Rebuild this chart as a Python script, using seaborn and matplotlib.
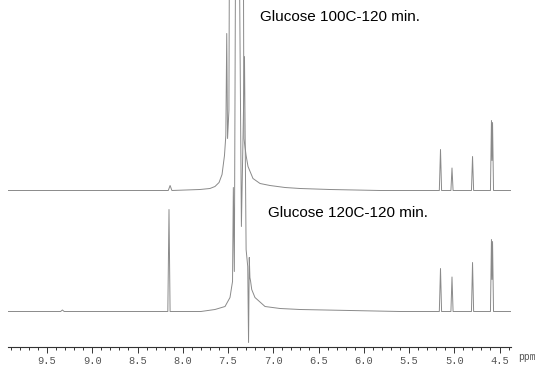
import numpy as np
import matplotlib
matplotlib.use("Agg")
import matplotlib.pyplot as plt
import seaborn as sns

# ---- data (ppm, intensity relative to each baseline) ----
top_ppm = [9.93, 8.16, 8.14, 8.12, 7.81, 7.70, 7.644, 7.599, 7.566, 7.539, 7.524,
           7.514, 7.505, 7.490, 7.479, 7.400, 7.335, 7.324, 7.300, 7.279, 7.224,
           7.146, 7.036, 6.870, 6.704, 6.373, 5.820,
           5.165, 5.152, 5.140, 5.037, 5.025, 5.013, 4.810, 4.798, 4.786,
           4.600, 4.589, 4.583, 4.577, 4.566, 4.30]
top_int = [0, 0, 5, 0, 1, 2, 4, 8, 16, 35, 55,
           157, 52, 80, 400, 400, 400, 52, 35, 24, 12,
           7, 5, 3, 2, 1, 0,
           0, 41, 0, 0, 22.5, 0, 0, 34, 0,
           0, 70, 30, 68, 0, 0]

bot_ppm = [9.93, 9.35, 9.33, 9.31, 8.165, 8.152, 8.140, 7.80, 7.644, 7.533,
           7.478, 7.459, 7.450, 7.441, 7.430, 7.415, 7.406, 7.397, 7.388, 7.378,
           7.352, 7.318, 7.300, 7.282, 7.273, 7.265, 7.258, 7.250, 7.238, 7.202,
           7.091, 6.925, 6.704, 6.152, 5.599,
           5.165, 5.152, 5.140, 5.037, 5.025, 5.013, 4.810, 4.798, 4.786,
           4.600, 4.589, 4.583, 4.577, 4.566, 4.30]
bot_int = [0, 0, 1.5, 0, 0, 102, 0, 0, 2, 5,
           14, 25, 30, 124, 40, 400, 350, 400, 350, 400,
           85, 255, 62, 45, -31, 54, 34, 30, 22, 14,
           5, 3, 2, 1, 0,
           0, 43, 0, 0, 34.5, 0, 0, 49, 0,
           0, 72, 32, 70, 0, 0]

labels = ["Glucose 100C-120 min.", "Glucose 120C-120 min."]
major_ticks = [9.5, 9.0, 8.5, 8.0, 7.5, 7.0, 6.5, 6.0, 5.5, 5.0, 4.5]

# ---- layout / style ----
TOP_OFF = 156.5
BOT_OFF = 35.5
LINE_C = "#8a8a8a"

fig = plt.figure(figsize=(5.38, 3.65), dpi=100)
ax = fig.add_axes([8 / 538, 18 / 365, 503 / 538, 347 / 365])

sns.lineplot(x=top_ppm, y=np.array(top_int) + TOP_OFF, ax=ax, color=LINE_C,
             lw=0.7, estimator=None, sort=True)
sns.lineplot(x=bot_ppm, y=np.array(bot_int) + BOT_OFF, ax=ax, color=LINE_C,
             lw=0.7, estimator=None, sort=True)

ax.set_xlim(9.931, 4.373)
ax.set_ylim(0, 347)
ax.set_facecolor("white")
for s in ("top", "left", "right"):
    ax.spines[s].set_visible(False)
ax.spines["bottom"].set_color("#333333")
ax.spines["bottom"].set_linewidth(0.8)
ax.set_yticks([])
ax.set_xticks(major_ticks)
ax.set_xticklabels([f"{t:.1f}" for t in major_ticks])
ax.set_xticks(np.round(np.arange(9.9, 4.35, -0.1), 1), minor=True)
ax.tick_params(axis="x", which="major", length=4, width=0.7, color="#333333",
               direction="out", labelsize=7.5, labelcolor="#555555", pad=2.5)
ax.tick_params(axis="x", which="minor", length=2.5, width=0.7, color="#333333",
               direction="out")
for lab in ax.get_xticklabels():
    lab.set_fontfamily("Liberation Mono")
ax.set_xlabel("")
ax.set_ylabel("")

fig.text(518 / 538, 1 - 357 / 365, "ppm", fontsize=7, family="Liberation Mono",
         color="#555555", va="center", ha="left")
fig.text(260 / 538, 1 - 17 / 365, labels[0], fontsize=11, family="Liberation Sans",
         va="center", ha="left", color="black")
fig.text(268 / 538, 1 - 213 / 365, labels[1], fontsize=11, family="Liberation Sans",
         va="center", ha="left", color="black")

fig.savefig("out.png", dpi=100, facecolor="white")
